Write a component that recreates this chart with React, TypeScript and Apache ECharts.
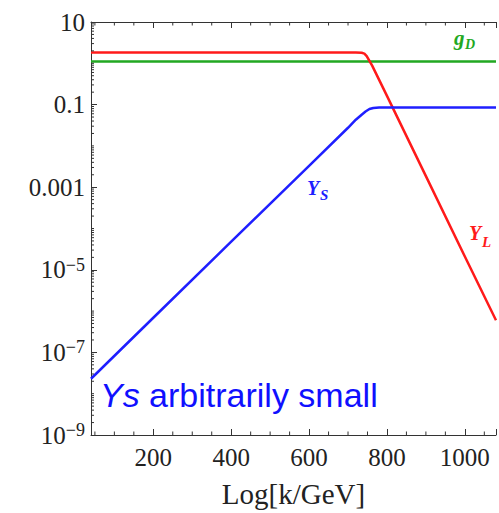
import React, { useEffect, useRef } from "react";
import * as echarts from "echarts";

// ---- data ----
const xBlue = [40, 200, 400, 600, 700, 720, 735, 745, 755, 765, 780, 800, 1080];
const yBlue = [2.3e-8, 6.9e-7, 4.8e-5, 3.3e-3, 0.0275, 0.043, 0.057, 0.068, 0.078, 0.083, 0.085, 0.085, 0.085];

const xRed = [40, 600, 720, 735, 742, 748, 755, 762, 800, 900, 1000, 1080];
const yRed = [1.82, 1.82, 1.82, 1.8, 1.72, 1.5, 1.15, 0.88, 0.163, 1.85e-3, 2.1e-5, 6.0e-7];

const xGreen = [40, 400, 800, 1080];
const yGreen = [1.1, 1.1, 1.1, 1.1];

const xTickLabels = [200, 400, 600, 800, 1000];
const yMajorExponents = [-9, -7, -5, -3, -1, 1];
const xMinorTicks = [50, 100, 150, 250, 300, 350, 450, 500, 550, 650, 700, 750, 850, 900, 950, 1050];
const yMinorMultipliers = [1, 2, 3, 4, 5, 6, 7, 8, 9];

const X_MIN = 40;
const X_MAX = 1080;
const Y_MIN = -9;
const Y_MAX = 1;

const SERIF = "Liberation Serif, Times New Roman, serif";
const SANS = "Liberation Sans, Arial, sans-serif";
const AX = "#333";
const TXT = "#222";

function toLogPairs(xs: number[], ys: number[]) {
  return xs.map((x, i) => [x, Math.log10(ys[i])]);
}

export default function App() {
  const ref = useRef<HTMLDivElement>(null);
  useEffect(() => {
    if (!ref.current) return;
    const chart = echarts.init(ref.current, undefined, { renderer: "svg" });

    const yMinor: number[][] = [];
    for (let k = -9; k <= 0; k++) {
      for (const n of yMinorMultipliers) {
        if (n === 1 && yMajorExponents.includes(k)) continue;
        yMinor.push([X_MIN, Math.log10(n * Math.pow(10, k))]);
      }
    }

    const tickStyle = { stroke: AX, lineWidth: 1 };

    const xAxisBase: any = {
      type: "value",
      min: X_MIN,
      max: X_MAX,
      splitNumber: 5,
      axisLine: { show: true, onZero: false, lineStyle: { color: AX, width: 1 } },
      axisTick: { show: true, inside: true, length: 6, lineStyle: { color: AX, width: 1 } },
      splitLine: { show: false },
    };

    const option: any = {
      animation: false,
      grid: { left: 91, right: 0, top: 22, bottom: 75, containLabel: false },
      xAxis: [
        {
          ...xAxisBase,
          position: "bottom",
          name: "Log[k/GeV]",
          nameLocation: "middle",
          nameGap: 44,
          nameTextStyle: { fontFamily: SERIF, fontSize: 29, color: TXT },
          axisLabel: {
            margin: 10,
            fontFamily: SERIF,
            fontSize: 25,
            color: TXT,
            formatter: (v: number) => (xTickLabels.includes(v) ? String(v) : ""),
          },
        },
        {
          ...xAxisBase,
          position: "top",
          axisLabel: { show: false },
        },
      ],
      yAxis: {
        type: "value",
        min: Y_MIN,
        max: Y_MAX,
        interval: 2,
        axisLine: { show: true, onZero: false, lineStyle: { color: AX, width: 1 } },
        axisTick: { show: true, inside: true, length: 6, lineStyle: { color: AX, width: 1 } },
        splitLine: { show: false },
        axisLabel: {
          margin: 6,
          fontFamily: SERIF,
          fontSize: 25,
          color: TXT,
          formatter: (v: number) => {
            if (v === 1) return "{b|10}";
            if (v === -1) return "{b|0.1}";
            if (v === -3) return "{b|0.001}";
            return "{b|10}{s|\u2212" + -v + "}";
          },
          rich: {
            b: { fontFamily: SERIF, fontSize: 25, color: TXT, lineHeight: 28 },
            s: { fontFamily: SERIF, fontSize: 18, color: TXT, lineHeight: 16, verticalAlign: "top" },
          },
        },
      },
      series: [
        {
          type: "line",
          data: toLogPairs(xGreen, yGreen),
          showSymbol: false,
          lineStyle: { color: "#22a822", width: 2.5 },
          z: 3,
        },
        {
          type: "line",
          data: toLogPairs(xRed, yRed),
          showSymbol: false,
          lineStyle: { color: "#ff1a1a", width: 2.5 },
          z: 4,
        },
        {
          type: "line",
          data: toLogPairs(xBlue, yBlue),
          showSymbol: false,
          lineStyle: { color: "#1f1fff", width: 2.5 },
          z: 5,
        },
        {
          type: "custom",
          silent: true,
          data: xMinorTicks.map((v) => [v, Y_MIN]),
          renderItem: (params: any, api: any) => {
            const v = api.value(0);
            const b = api.coord([v, Y_MIN]);
            const t = api.coord([v, Y_MAX]);
            return {
              type: "group",
              children: [
                { type: "line", shape: { x1: b[0], y1: b[1], x2: b[0], y2: b[1] - 3.5 }, style: tickStyle },
                { type: "line", shape: { x1: t[0], y1: t[1], x2: t[0], y2: t[1] + 3.5 }, style: tickStyle },
              ],
            };
          },
          z: 6,
        },
        {
          type: "custom",
          silent: true,
          data: yMinor,
          renderItem: (params: any, api: any) => {
            const v = api.value(1);
            const p = api.coord([X_MIN, v]);
            return { type: "line", shape: { x1: p[0], y1: p[1], x2: p[0] + 3, y2: p[1] }, style: tickStyle };
          },
          z: 6,
        },
      ],
      graphic: [
        { type: "text", x: 454, y: 38, style: { text: "g", font: "italic bold 21px Liberation Serif", fill: "#22a822", verticalAlign: "middle" } },
        { type: "text", x: 465, y: 44, style: { text: "D", font: "italic bold 14px Liberation Serif", fill: "#22a822", verticalAlign: "middle" } },
        { type: "text", x: 307, y: 188, style: { text: "Y", font: "italic bold 20px Liberation Serif", fill: "#1f1fff", verticalAlign: "middle" } },
        { type: "text", x: 320, y: 195, style: { text: "S", font: "italic bold 15px Liberation Serif", fill: "#1f1fff", verticalAlign: "middle" } },
        { type: "text", x: 469, y: 233, style: { text: "Y", font: "italic bold 20px Liberation Serif", fill: "#ff1a1a", verticalAlign: "middle" } },
        { type: "text", x: 482, y: 242, style: { text: "L", font: "italic bold 15px Liberation Serif", fill: "#ff1a1a", verticalAlign: "middle" } },
        {
          type: "text",
          x: 100,
          y: 395,
          style: {
            text: "{i|Ys}{n| arbitrarily small}",
            verticalAlign: "middle",
            rich: {
              i: { fontFamily: SANS, fontStyle: "italic", fontSize: 34, fill: "#1010ff" },
              n: { fontFamily: SANS, fontSize: 34, fill: "#1010ff" },
            },
          },
        },
      ],
    };

    chart.setOption(option);
    return () => chart.dispose();
  }, []);

  return <div ref={ref} style={{ position: "absolute", left: 0, top: 0, width: 499, height: 513 }} />;
}
